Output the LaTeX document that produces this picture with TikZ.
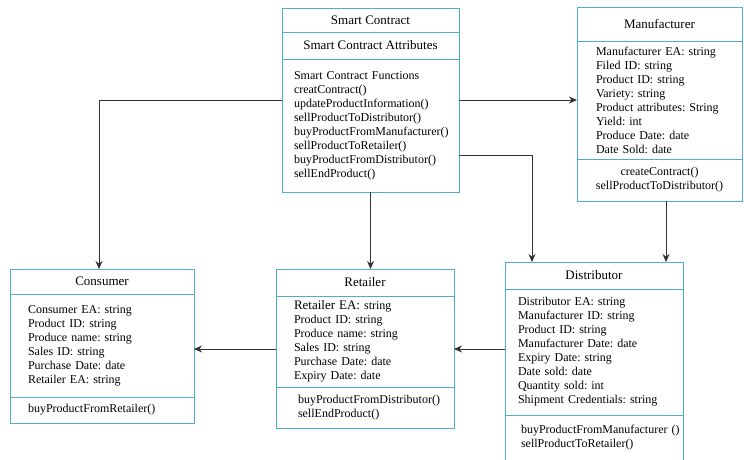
\documentclass[tikz,border=0pt]{standalone}
\usepackage{fontspec}
\setmainfont{Liberation Serif}
\usepackage{tikz}
\usetikzlibrary{positioning, arrows.meta}
\definecolor{umlblue}{RGB}{80,175,200}
\hyphenpenalty=10000
\frenchspacing
\tikzstyle{part} = [rectangle, draw=umlblue, line width=0.9pt, outer sep=0pt, inner ysep=0pt]
\tikzstyle{title} = [part, align=center, font=\fontsize{13}{15}\selectfont]
\tikzstyle{fields} = [part, align=left, font=\fontsize{12}{14}\selectfont]
\tikzstyle{ops} = [part, align=center, font=\fontsize{12}{14}\selectfont]
\tikzstyle{arrow} = [line width=0.9pt, draw=black!80, -{Stealth[length=8pt,width=7pt]}]

\begin{document}
\begin{tikzpicture}[x=1pt, y=-1pt]
\useasboundingbox (0,0) rectangle (744,459);
\clip (0,0) rectangle (744,459);

%% NODES
% smart contract
\node (sctitle) [title, minimum width=177pt, minimum height=24pt, anchor=north] at (370.5,8) {Smart Contract};
\node (scattr) [title, minimum width=177pt, minimum height=27pt, below=0pt of sctitle] {Smart Contract Attributes};
\node (scfunc) [fields, text width=153pt, inner xsep=12pt, minimum height=133pt, below=0pt of scattr] {Smart Contract Functions\\ creatContract()\\ updateProductInformation()\\ sellProductToDistributor()\\ buyProductFromManufacturer()\\ sellProductToRetailer()\\ buyProductFromDistributor()\\ sellEndProduct()};

% manufacturer
\node (mtitle) [title, minimum width=165pt, minimum height=34pt, anchor=north] at (659.5,7) {Manufacturer};
\node (mattr) [fields, text width=127pt, inner xsep=19pt, minimum height=118pt, below=0pt of mtitle] {Manufacturer EA: string\\ Filed ID: string\\ Product ID: string\\ Variety: string\\ Product attributes: String\\ Yield: int\\ Produce Date: date\\ Date Sold: date};
\node (mops) [ops, minimum width=165pt, minimum height=42pt, below=0pt of mattr] {createContract()\\ sellProductToDistributor()};

% consumer
\node (ctitle) [title, minimum width=184pt, minimum height=25pt, anchor=north] at (102,269) {Consumer};
\node (cattr) [fields, text width=148pt, inner xsep=18pt, minimum height=103pt, below=0pt of ctitle] {Consumer EA: string\\ Product ID: string\\ Produce name: string\\ Sales ID: string\\ Purchase Date: date\\ Retailer EA: string};
\node (cops) [fields, text width=148pt, inner xsep=18pt, minimum height=26pt, below=0pt of cattr] {buyProductFromRetailer()};

% retailer
\node (rtitle) [title, minimum width=178pt, minimum height=27pt, anchor=north] at (365,269) {Retailer};
\node (rattr) [fields, text width=142pt, inner xsep=18pt, minimum height=91pt, below=0pt of rtitle] {{\fontsize{13}{14}\selectfont Retailer EA:} string\\ Product ID: string\\ Produce name: string\\ Sales ID: string\\ Purchase Date: date\\ Expiry Date: date};
\node (rops) [fields, text width=134pt, inner xsep=22pt, minimum height=41pt, below=0pt of rattr] {buyProductFromDistributor()\\ sellEndProduct()};

% distributor
\node (dtitle) [title, minimum width=178pt, minimum height=27pt, anchor=north] at (594,262) {Distributor};
\node (dattr) [fields, text width=152pt, inner xsep=13pt, minimum height=126pt, below=0pt of dtitle] {Distributor EA: string\\ Manufacturer ID: string\\ Product ID: string\\ Manufacturer Date: date\\ Expiry Date: string\\ Date sold: date\\ Quantity sold: int\\ Shipment Credentials: string};
\node (dops) [fields, text width=146pt, inner xsep=16pt, minimum height=46pt, below=0pt of dattr] {buyProductFromManufacturer~()\\ sellProductToRetailer()};

\coordinate (md) at ([xshift=6.5pt]mops.south);
\coordinate (dr) at ([yshift=3pt]dattr.west);
\coordinate (rc) at ([yshift=-7.5pt]rattr.west);

%% ARROWS
\draw [arrow] (scfunc.west |- mattr.west) -| ([xshift=-3pt]ctitle.north);
\draw [arrow] (scfunc.east |- mattr.west) -- (mattr.west);
\draw [arrow] ([yshift=-29.5pt]scfunc.east) -| ([xshift=-62pt]dtitle.north);
\draw [arrow] (scfunc.south) -- (scfunc.south |- rtitle.north);
\draw [arrow] (md) -- (md |- dtitle.north);
\draw [arrow] (dr) -- (dr -| rattr.east);
\draw [arrow] (rc) -- (rc -| cattr.east);
\end{tikzpicture}
\end{document}
